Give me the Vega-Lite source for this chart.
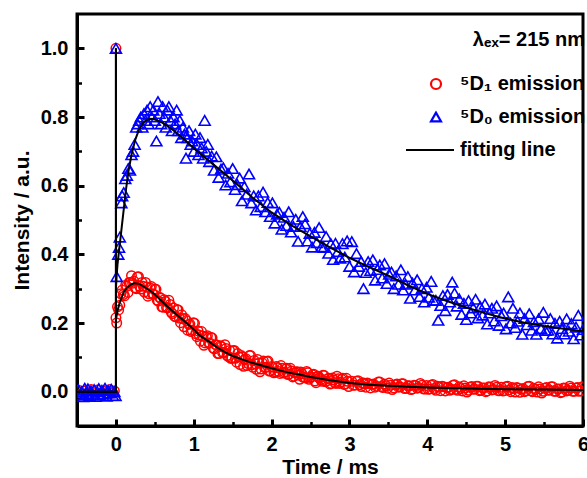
{
  "$schema": "https://vega.github.io/schema/vega-lite/v6.json",
  "width": 506,
  "height": 412,
  "autosize": {"type": "none"},
  "padding": {"left": 77, "top": 14, "right": 4, "bottom": 52},
  "background": "white",
  "config": {
    "font": "Liberation Sans",
    "view": {"stroke": "black", "strokeWidth": 3},
    "axis": {
      "labelFont": "Liberation Sans", "labelFontSize": 20, "labelFontWeight": "bold", "labelColor": "black",
      "titleFont": "Liberation Sans", "titleFontSize": 21, "titleFontWeight": "bold", "titleColor": "black",
      "domainColor": "black", "domainWidth": 3, "tickColor": "black", "grid": false
    }
  },
  "datasets": {
    "d1": [
      {"t":-0.48,"y":0.004},{"t":-0.44,"y":-0.006},{"t":-0.40,"y":0.002},{"t":-0.36,"y":-0.008},{"t":-0.32,"y":0.006},{"t":-0.28,"y":-0.003},{"t":-0.24,"y":0.005},{"t":-0.20,"y":-0.007},{"t":-0.16,"y":0.001},{"t":-0.12,"y":-0.005},{"t":-0.08,"y":0.006},{"t":-0.04,"y":-0.004},{"t":-0.02,"y":0.002},
      {"t":0.0,"y":1.0},{"t":0.0,"y":0.215},{"t":0.01,"y":0.20},
      {"t":0.02,"y":0.247},{"t":0.05,"y":0.252},{"t":0.08,"y":0.296},{"t":0.11,"y":0.279},{"t":0.14,"y":0.307},{"t":0.17,"y":0.318},{"t":0.20,"y":0.338},{"t":0.23,"y":0.322},{"t":0.26,"y":0.300},{"t":0.29,"y":0.335},{"t":0.32,"y":0.299},{"t":0.35,"y":0.307},{"t":0.38,"y":0.318},{"t":0.41,"y":0.278},{"t":0.44,"y":0.302},{"t":0.47,"y":0.285},{"t":0.50,"y":0.299},{"t":0.53,"y":0.266},{"t":0.56,"y":0.275},{"t":0.59,"y":0.247},{"t":0.62,"y":0.268},{"t":0.65,"y":0.245},{"t":0.68,"y":0.266},{"t":0.71,"y":0.231},{"t":0.74,"y":0.244},{"t":0.77,"y":0.218},{"t":0.80,"y":0.238},{"t":0.83,"y":0.201},{"t":0.86,"y":0.213},{"t":0.89,"y":0.213},{"t":0.92,"y":0.179},{"t":0.95,"y":0.197},{"t":0.98,"y":0.179},{"t":1.01,"y":0.199},{"t":1.04,"y":0.160},{"t":1.07,"y":0.165},{"t":1.10,"y":0.175},{"t":1.13,"y":0.135},{"t":1.16,"y":0.159},{"t":1.19,"y":0.142},{"t":1.22,"y":0.158},{"t":1.25,"y":0.127},{"t":1.28,"y":0.137},{"t":1.31,"y":0.111},{"t":1.34,"y":0.134},{"t":1.37,"y":0.114},{"t":1.40,"y":0.137},{"t":1.43,"y":0.105},{"t":1.46,"y":0.120},{"t":1.49,"y":0.097},{"t":1.52,"y":0.120},{"t":1.55,"y":0.086},{"t":1.58,"y":0.101},{"t":1.61,"y":0.105},{"t":1.64,"y":0.074},{"t":1.67,"y":0.096},{"t":1.70,"y":0.082},{"t":1.73,"y":0.105},{"t":1.76,"y":0.071},{"t":1.79,"y":0.081},{"t":1.82,"y":0.094},{"t":1.85,"y":0.058},{"t":1.88,"y":0.084},{"t":1.91,"y":0.070},{"t":1.94,"y":0.088},{"t":1.97,"y":0.060},{"t":2.00,"y":0.073},
      {"t":2.03,"y":0.055},{"t":2.06,"y":0.073},{"t":2.09,"y":0.059},{"t":2.12,"y":0.076},{"t":2.15,"y":0.054},{"t":2.18,"y":0.066},{"t":2.21,"y":0.050},{"t":2.24,"y":0.068},{"t":2.27,"y":0.043},{"t":2.30,"y":0.055},{"t":2.33,"y":0.058},{"t":2.36,"y":0.036},{"t":2.39,"y":0.052},{"t":2.42,"y":0.043},{"t":2.45,"y":0.059},{"t":2.48,"y":0.036},{"t":2.51,"y":0.043},{"t":2.54,"y":0.051},{"t":2.57,"y":0.026},{"t":2.60,"y":0.045},{"t":2.63,"y":0.035},{"t":2.66,"y":0.048},{"t":2.69,"y":0.029},{"t":2.72,"y":0.038},{"t":2.75,"y":0.022},{"t":2.78,"y":0.040},{"t":2.81,"y":0.027},{"t":2.84,"y":0.045},{"t":2.87,"y":0.024},{"t":2.90,"y":0.036},{"t":2.93,"y":0.021},{"t":2.96,"y":0.039},{"t":2.99,"y":0.015},
      {"t":3.03,"y":0.030},{"t":3.07,"y":0.019},{"t":3.11,"y":0.032},{"t":3.15,"y":0.015},{"t":3.19,"y":0.023},{"t":3.23,"y":0.025},{"t":3.27,"y":0.011},{"t":3.31,"y":0.022},{"t":3.35,"y":0.016},{"t":3.39,"y":0.028},{"t":3.43,"y":0.012},{"t":3.47,"y":0.017},{"t":3.51,"y":0.025},{"t":3.55,"y":0.006},{"t":3.59,"y":0.020},{"t":3.63,"y":0.013},{"t":3.67,"y":0.023},{"t":3.71,"y":0.009},{"t":3.75,"y":0.017},{"t":3.79,"y":0.006},{"t":3.83,"y":0.019},{"t":3.87,"y":0.010},{"t":3.91,"y":0.024},{"t":3.95,"y":0.008},{"t":3.99,"y":0.018},{"t":4.03,"y":0.008},{"t":4.07,"y":0.021},{"t":4.11,"y":0.004},{"t":4.15,"y":0.013},{"t":4.19,"y":0.016},{"t":4.23,"y":0.002},{"t":4.27,"y":0.013},{"t":4.31,"y":0.007},{"t":4.35,"y":0.020},{"t":4.39,"y":0.004},{"t":4.43,"y":0.009},{"t":4.47,"y":0.017},{"t":4.51,"y":-0.001},{"t":4.55,"y":0.013},{"t":4.59,"y":0.007},{"t":4.63,"y":0.016},{"t":4.67,"y":0.003},{"t":4.71,"y":0.011},{"t":4.75,"y":0.000},{"t":4.79,"y":0.014},{"t":4.83,"y":0.005},{"t":4.87,"y":0.018},{"t":4.91,"y":0.003},{"t":4.95,"y":0.013},{"t":4.99,"y":0.003},{"t":5.03,"y":0.016},{"t":5.07,"y":0.000},{"t":5.11,"y":0.009},{"t":5.15,"y":0.012},{"t":5.19,"y":-0.002},{"t":5.23,"y":0.009},{"t":5.27,"y":0.003},{"t":5.31,"y":0.016},{"t":5.35,"y":0.000},{"t":5.39,"y":0.006},{"t":5.43,"y":0.014},{"t":5.47,"y":-0.004},{"t":5.51,"y":0.010},{"t":5.55,"y":0.004},{"t":5.59,"y":0.014},{"t":5.63,"y":0.001},{"t":5.67,"y":0.008},{"t":5.71,"y":-0.003},{"t":5.75,"y":0.011},{"t":5.79,"y":0.002},{"t":5.83,"y":0.016},{"t":5.87,"y":0.001},{"t":5.91,"y":0.011},{"t":5.95,"y":0.001},{"t":5.99,"y":0.014},
      {"t":0.035,"y":0.238},{"t":0.065,"y":0.285},{"t":0.095,"y":0.283},{"t":0.125,"y":0.310},{"t":0.155,"y":0.289},{"t":0.185,"y":0.318},{"t":0.215,"y":0.316},{"t":0.245,"y":0.303},{"t":0.275,"y":0.334},{"t":0.305,"y":0.307},{"t":0.335,"y":0.318},{"t":0.365,"y":0.290},{"t":0.395,"y":0.305},{"t":0.425,"y":0.285},{"t":0.455,"y":0.306},{"t":0.485,"y":0.284},{"t":0.515,"y":0.298},{"t":0.545,"y":0.264},{"t":0.575,"y":0.272},{"t":0.605,"y":0.246},{"t":0.635,"y":0.263},{"t":0.665,"y":0.244},{"t":0.695,"y":0.254},{"t":0.725,"y":0.227},{"t":0.755,"y":0.219},{"t":0.785,"y":0.239},{"t":0.815,"y":0.214},{"t":0.845,"y":0.224},{"t":0.875,"y":0.189},{"t":0.905,"y":0.207},{"t":0.935,"y":0.196},{"t":0.965,"y":0.175},{"t":0.995,"y":0.201},{"t":1.025,"y":0.169},{"t":1.055,"y":0.177},{"t":1.085,"y":0.147},{"t":1.115,"y":0.162},{"t":1.145,"y":0.142},{"t":1.175,"y":0.163},{"t":1.205,"y":0.142},{"t":1.235,"y":0.157},{"t":1.265,"y":0.125},{"t":1.295,"y":0.136},{"t":1.325,"y":0.111},{"t":1.355,"y":0.131},{"t":1.385,"y":0.114},{"t":1.415,"y":0.126},{"t":1.445,"y":0.102},{"t":1.475,"y":0.097},{"t":1.505,"y":0.119},{"t":1.535,"y":0.097},{"t":1.565,"y":0.111},{"t":1.595,"y":0.079},{"t":1.625,"y":0.101},{"t":1.655,"y":0.093},{"t":1.685,"y":0.076},{"t":1.715,"y":0.105},{"t":1.745,"y":0.078},{"t":1.775,"y":0.091},{"t":1.805,"y":0.065},{"t":1.835,"y":0.083},{"t":1.865,"y":0.066},{"t":1.895,"y":0.089},{"t":1.925,"y":0.071},{"t":1.955,"y":0.089},{"t":1.985,"y":0.060},
      {"t":2.015,"y":0.071},{"t":2.045,"y":0.058},{"t":2.075,"y":0.070},{"t":2.105,"y":0.053},{"t":2.135,"y":0.068},{"t":2.165,"y":0.057},{"t":2.195,"y":0.068},{"t":2.225,"y":0.051},{"t":2.255,"y":0.060},{"t":2.285,"y":0.045},{"t":2.315,"y":0.057},{"t":2.345,"y":0.048},{"t":2.375,"y":0.057},{"t":2.405,"y":0.042},{"t":2.435,"y":0.040},{"t":2.465,"y":0.055},{"t":2.495,"y":0.041},{"t":2.525,"y":0.049},{"t":2.555,"y":0.031},{"t":2.585,"y":0.044},{"t":2.615,"y":0.040},{"t":2.645,"y":0.030},{"t":2.675,"y":0.047},{"t":2.705,"y":0.031},{"t":2.735,"y":0.039},{"t":2.765,"y":0.024},{"t":2.795,"y":0.034},{"t":2.825,"y":0.024},{"t":2.855,"y":0.038},{"t":2.885,"y":0.028},{"t":2.915,"y":0.039},{"t":2.945,"y":0.022},{"t":2.975,"y":0.030},
      {"t":3.05,"y":0.019},{"t":3.09,"y":0.030},{"t":3.13,"y":0.020},{"t":3.17,"y":0.026},{"t":3.21,"y":0.013},{"t":3.25,"y":0.023},{"t":3.29,"y":0.021},{"t":3.33,"y":0.013},{"t":3.37,"y":0.028},{"t":3.41,"y":0.015},{"t":3.45,"y":0.022},{"t":3.49,"y":0.010},{"t":3.53,"y":0.019},{"t":3.57,"y":0.011},{"t":3.61,"y":0.022},{"t":3.65,"y":0.014},{"t":3.69,"y":0.023},{"t":3.73,"y":0.010},{"t":3.77,"y":0.017},{"t":3.81,"y":0.008},{"t":3.85,"y":0.018},{"t":3.89,"y":0.012},{"t":3.93,"y":0.019},{"t":3.97,"y":0.008},{"t":4.01,"y":0.007},{"t":4.05,"y":0.019},{"t":4.09,"y":0.009},{"t":4.13,"y":0.016},{"t":4.17,"y":0.003},{"t":4.21,"y":0.014},{"t":4.25,"y":0.012},{"t":4.29,"y":0.004},{"t":4.33,"y":0.019},{"t":4.37,"y":0.007},{"t":4.41,"y":0.014},{"t":4.45,"y":0.002},{"t":4.49,"y":0.011},{"t":4.53,"y":0.004},{"t":4.57,"y":0.015},{"t":4.61,"y":0.008},{"t":4.65,"y":0.016},{"t":4.69,"y":0.004},{"t":4.73,"y":0.011},{"t":4.77,"y":0.002},{"t":4.81,"y":0.013},{"t":4.85,"y":0.006},{"t":4.89,"y":0.013},{"t":4.93,"y":0.003},{"t":4.97,"y":0.002},{"t":5.01,"y":0.014},{"t":5.05,"y":0.005},{"t":5.09,"y":0.012},{"t":5.13,"y":-0.001},{"t":5.17,"y":0.010},{"t":5.21,"y":0.007},{"t":5.25,"y":0.000},{"t":5.29,"y":0.015},{"t":5.33,"y":0.003},{"t":5.37,"y":0.010},{"t":5.41,"y":-0.001},{"t":5.45,"y":0.008},{"t":5.49,"y":0.001},{"t":5.53,"y":0.012},{"t":5.57,"y":0.005},{"t":5.61,"y":0.014},{"t":5.65,"y":0.001},{"t":5.69,"y":0.008},{"t":5.73,"y":-0.001},{"t":5.77,"y":0.010},{"t":5.81,"y":0.004},{"t":5.85,"y":0.011},{"t":5.89,"y":0.001},{"t":5.93,"y":0.012},{"t":5.97,"y":0.003}
    ],
    "d0": [
      {"t":-0.48,"y":0.005},{"t":-0.46,"y":-0.010},{"t":-0.44,"y":0.000},{"t":-0.42,"y":-0.015},{"t":-0.40,"y":0.010},{"t":-0.38,"y":-0.005},{"t":-0.36,"y":0.008},{"t":-0.34,"y":-0.012},{"t":-0.32,"y":0.002},{"t":-0.30,"y":-0.008},{"t":-0.28,"y":0.006},{"t":-0.26,"y":-0.014},{"t":-0.24,"y":0.000},{"t":-0.22,"y":0.009},{"t":-0.20,"y":-0.010},{"t":-0.18,"y":0.004},{"t":-0.16,"y":-0.006},{"t":-0.14,"y":0.010},{"t":-0.12,"y":-0.013},{"t":-0.10,"y":0.003},{"t":-0.08,"y":-0.004},{"t":-0.06,"y":0.007},{"t":-0.04,"y":-0.011},{"t":-0.02,"y":0.000},{"t":-0.005,"y":-0.012},
      {"t":0.0,"y":1.0},
      {"t":0.01,"y":0.335},{"t":0.03,"y":0.40},{"t":0.04,"y":0.42},{"t":0.05,"y":0.45},{"t":0.07,"y":0.55},{"t":0.08,"y":0.57},{"t":0.10,"y":0.58},{"t":0.12,"y":0.62},{"t":0.14,"y":0.63},{"t":0.16,"y":0.65},{"t":0.18,"y":0.645},{"t":0.20,"y":0.69},{"t":0.22,"y":0.70},{"t":0.24,"y":0.72},{"t":0.26,"y":0.77},{"t":0.28,"y":0.78},{"t":0.30,"y":0.79},{"t":0.32,"y":0.80},{"t":0.34,"y":0.77},{"t":0.36,"y":0.81},{"t":0.38,"y":0.79},{"t":0.40,"y":0.82},{"t":0.42,"y":0.78},{"t":0.44,"y":0.83},{"t":0.46,"y":0.80},{"t":0.48,"y":0.82},{"t":0.50,"y":0.79},{"t":0.52,"y":0.73},{"t":0.54,"y":0.845},{"t":0.56,"y":0.81},{"t":0.58,"y":0.78},{"t":0.60,"y":0.83},{"t":0.62,"y":0.80},{"t":0.64,"y":0.77},{"t":0.66,"y":0.82},{"t":0.68,"y":0.83},{"t":0.70,"y":0.79},{"t":0.72,"y":0.76},{"t":0.74,"y":0.80},{"t":0.76,"y":0.78},{"t":0.78,"y":0.82},{"t":0.80,"y":0.76},{"t":0.82,"y":0.79},{"t":0.84,"y":0.74},{"t":0.86,"y":0.77},{"t":0.88,"y":0.75},{"t":0.90,"y":0.68},{"t":0.92,"y":0.74},{"t":0.94,"y":0.76},{"t":0.96,"y":0.72},{"t":0.98,"y":0.73},{"t":1.00,"y":0.70},{"t":1.02,"y":0.75},{"t":1.04,"y":0.72},{"t":1.06,"y":0.69},{"t":1.08,"y":0.74},{"t":1.10,"y":0.71},{"t":1.12,"y":0.68},{"t":1.14,"y":0.79},{"t":1.16,"y":0.70},{"t":1.18,"y":0.72},{"t":1.20,"y":0.67},
      {"t":1.23,"y":0.686},{"t":1.26,"y":0.645},{"t":1.29,"y":0.684},{"t":1.32,"y":0.624},{"t":1.35,"y":0.648},{"t":1.38,"y":0.652},{"t":1.41,"y":0.602},{"t":1.44,"y":0.636},{"t":1.47,"y":0.611},{"t":1.50,"y":0.650},{"t":1.53,"y":0.589},{"t":1.56,"y":0.603},{"t":1.59,"y":0.622},{"t":1.62,"y":0.556},{"t":1.65,"y":0.597},{"t":1.68,"y":0.575},{"t":1.71,"y":0.634},{"t":1.74,"y":0.550},{"t":1.77,"y":0.570},{"t":1.80,"y":0.529},{"t":1.83,"y":0.570},{"t":1.86,"y":0.539},{"t":1.89,"y":0.581},{"t":1.92,"y":0.524},
      {"t":1.95,"y":0.551},{"t":1.98,"y":0.510},{"t":2.01,"y":0.550},{"t":2.04,"y":0.491},{"t":2.07,"y":0.517},{"t":2.10,"y":0.522},{"t":2.13,"y":0.473},{"t":2.16,"y":0.508},{"t":2.19,"y":0.484},{"t":2.22,"y":0.524},{"t":2.25,"y":0.465},{"t":2.28,"y":0.481},{"t":2.31,"y":0.502},{"t":2.34,"y":0.438},{"t":2.37,"y":0.481},{"t":2.40,"y":0.510},{"t":2.43,"y":0.489},{"t":2.46,"y":0.439},{"t":2.49,"y":0.461},{"t":2.52,"y":0.421},{"t":2.55,"y":0.464},{"t":2.58,"y":0.434},{"t":2.61,"y":0.478},{"t":2.64,"y":0.422},
      {"t":2.67,"y":0.420},{"t":2.70,"y":0.452},{"t":2.73,"y":0.403},{"t":2.76,"y":0.431},{"t":2.79,"y":0.385},{"t":2.82,"y":0.432},{"t":2.85,"y":0.408},{"t":2.88,"y":0.389},{"t":2.91,"y":0.431},{"t":2.94,"y":0.392},{"t":2.97,"y":0.439},{"t":3.00,"y":0.365},{"t":3.03,"y":0.437},{"t":3.06,"y":0.349},{"t":3.09,"y":0.402},{"t":3.12,"y":0.365},{"t":3.15,"y":0.379},{"t":3.18,"y":0.300},{"t":3.21,"y":0.347},{"t":3.24,"y":0.379},{"t":3.27,"y":0.353},{"t":3.30,"y":0.384},{"t":3.33,"y":0.325},{"t":3.36,"y":0.356},
      {"t":3.39,"y":0.369},{"t":3.42,"y":0.331},{"t":3.45,"y":0.373},{"t":3.48,"y":0.315},{"t":3.51,"y":0.342},{"t":3.54,"y":0.348},{"t":3.57,"y":0.300},{"t":3.60,"y":0.337},{"t":3.63,"y":0.313},{"t":3.66,"y":0.355},{"t":3.69,"y":0.296},{"t":3.72,"y":0.313},{"t":3.75,"y":0.335},{"t":3.78,"y":0.272},{"t":3.81,"y":0.316},{"t":3.84,"y":0.296},{"t":3.87,"y":0.326},{"t":3.90,"y":0.277},{"t":3.93,"y":0.300},{"t":3.96,"y":0.261},{"t":3.99,"y":0.304},{"t":4.02,"y":0.275},{"t":4.05,"y":0.321},{"t":4.08,"y":0.266},
      {"t":4.11,"y":0.266},{"t":4.14,"y":0.208},{"t":4.17,"y":0.251},{"t":4.20,"y":0.280},{"t":4.23,"y":0.236},{"t":4.26,"y":0.283},{"t":4.29,"y":0.261},{"t":4.32,"y":0.319},{"t":4.35,"y":0.287},{"t":4.38,"y":0.249},{"t":4.41,"y":0.270},{"t":4.44,"y":0.225},{"t":4.47,"y":0.257},{"t":4.50,"y":0.210},{"t":4.53,"y":0.265},{"t":4.56,"y":0.229},{"t":4.59,"y":0.244},{"t":4.62,"y":0.269},{"t":4.65,"y":0.215},{"t":4.68,"y":0.248},{"t":4.71,"y":0.223},{"t":4.74,"y":0.255},{"t":4.77,"y":0.197},{"t":4.80,"y":0.229},
      {"t":4.83,"y":0.243},{"t":4.86,"y":0.206},{"t":4.89,"y":0.250},{"t":4.92,"y":0.193},{"t":4.95,"y":0.221},{"t":4.98,"y":0.229},{"t":5.01,"y":0.183},{"t":5.04,"y":0.276},{"t":5.07,"y":0.200},{"t":5.10,"y":0.243},{"t":5.13,"y":0.187},{"t":5.16,"y":0.205},{"t":5.19,"y":0.229},{"t":5.22,"y":0.167},{"t":5.25,"y":0.213},{"t":5.28,"y":0.195},{"t":5.31,"y":0.227},{"t":5.34,"y":0.179},{"t":5.37,"y":0.204},{"t":5.40,"y":0.167},{"t":5.43,"y":0.212},{"t":5.46,"y":0.184},{"t":5.49,"y":0.231},{"t":5.52,"y":0.178},
      {"t":5.55,"y":0.179},{"t":5.58,"y":0.213},{"t":5.61,"y":0.168},{"t":5.64,"y":0.199},{"t":5.67,"y":0.156},{"t":5.70,"y":0.205},{"t":5.73,"y":0.184},{"t":5.76,"y":0.168},{"t":5.79,"y":0.212},{"t":5.82,"y":0.176},{"t":5.85,"y":0.198},{"t":5.88,"y":0.154},{"t":5.91,"y":0.188},{"t":5.94,"y":0.222},{"t":5.97,"y":0.165},{"t":6.00,"y":0.181}
    ],
    "fit": [
      {"c":"D0","i":0,"t":-0.5,"y":0},{"c":"D0","i":1,"t":0,"y":0},{"c":"D0","i":2,"t":0,"y":1.0},{"c":"D0","i":3,"t":0,"y":0.30},{"c":"D0","i":4,"t":0.01,"y":0.34},{"c":"D0","i":5,"t":0.02,"y":0.37},{"c":"D0","i":6,"t":0.04,"y":0.41},{"c":"D0","i":7,"t":0.06,"y":0.45},{"c":"D0","i":8,"t":0.08,"y":0.49},{"c":"D0","i":9,"t":0.10,"y":0.53},{"c":"D0","i":10,"t":0.13,"y":0.59},{"c":"D0","i":11,"t":0.16,"y":0.64},{"c":"D0","i":12,"t":0.20,"y":0.69},{"c":"D0","i":13,"t":0.25,"y":0.735},{"c":"D0","i":14,"t":0.30,"y":0.765},{"c":"D0","i":15,"t":0.35,"y":0.783},{"c":"D0","i":16,"t":0.40,"y":0.792},{"c":"D0","i":17,"t":0.45,"y":0.795},{"c":"D0","i":18,"t":0.50,"y":0.793},{"c":"D0","i":19,"t":0.60,"y":0.783},{"c":"D0","i":20,"t":0.70,"y":0.768},{"c":"D0","i":21,"t":0.80,"y":0.750},{"c":"D0","i":22,"t":0.90,"y":0.730},{"c":"D0","i":23,"t":1.00,"y":0.709},{"c":"D0","i":24,"t":1.25,"y":0.662},{"c":"D0","i":25,"t":1.50,"y":0.615},{"c":"D0","i":26,"t":1.75,"y":0.566},{"c":"D0","i":27,"t":2.00,"y":0.522},{"c":"D0","i":28,"t":2.25,"y":0.485},{"c":"D0","i":29,"t":2.50,"y":0.452},{"c":"D0","i":30,"t":2.75,"y":0.420},{"c":"D0","i":31,"t":3.00,"y":0.390},{"c":"D0","i":32,"t":3.25,"y":0.363},{"c":"D0","i":33,"t":3.50,"y":0.338},{"c":"D0","i":34,"t":3.75,"y":0.310},{"c":"D0","i":35,"t":4.00,"y":0.285},{"c":"D0","i":36,"t":4.25,"y":0.264},{"c":"D0","i":37,"t":4.50,"y":0.245},{"c":"D0","i":38,"t":4.75,"y":0.228},{"c":"D0","i":39,"t":5.00,"y":0.213},{"c":"D0","i":40,"t":5.25,"y":0.201},{"c":"D0","i":41,"t":5.50,"y":0.191},{"c":"D0","i":42,"t":5.75,"y":0.183},{"c":"D0","i":43,"t":6.00,"y":0.176},
      {"c":"D1","i":0,"t":-0.5,"y":0},{"c":"D1","i":1,"t":0,"y":0},{"c":"D1","i":2,"t":0,"y":1.0},{"c":"D1","i":3,"t":0,"y":0.21},{"c":"D1","i":4,"t":0.02,"y":0.235},{"c":"D1","i":5,"t":0.05,"y":0.26},{"c":"D1","i":6,"t":0.10,"y":0.29},{"c":"D1","i":7,"t":0.14,"y":0.303},{"c":"D1","i":8,"t":0.20,"y":0.313},{"c":"D1","i":9,"t":0.24,"y":0.316},{"c":"D1","i":10,"t":0.30,"y":0.314},{"c":"D1","i":11,"t":0.35,"y":0.307},{"c":"D1","i":12,"t":0.44,"y":0.294},{"c":"D1","i":13,"t":0.50,"y":0.283},{"c":"D1","i":14,"t":0.65,"y":0.250},{"c":"D1","i":15,"t":0.75,"y":0.230},{"c":"D1","i":16,"t":0.87,"y":0.207},{"c":"D1","i":17,"t":1.00,"y":0.181},{"c":"D1","i":18,"t":1.08,"y":0.163},{"c":"D1","i":19,"t":1.20,"y":0.145},{"c":"D1","i":20,"t":1.29,"y":0.130},{"c":"D1","i":21,"t":1.40,"y":0.115},{"c":"D1","i":22,"t":1.51,"y":0.103},{"c":"D1","i":23,"t":1.62,"y":0.094},{"c":"D1","i":24,"t":1.72,"y":0.086},{"c":"D1","i":25,"t":1.83,"y":0.079},{"c":"D1","i":26,"t":1.94,"y":0.072},{"c":"D1","i":27,"t":2.10,"y":0.062},{"c":"D1","i":28,"t":2.25,"y":0.054},{"c":"D1","i":29,"t":2.37,"y":0.049},{"c":"D1","i":30,"t":2.50,"y":0.043},{"c":"D1","i":31,"t":2.75,"y":0.033},{"c":"D1","i":32,"t":3.00,"y":0.025},{"c":"D1","i":33,"t":3.25,"y":0.020},{"c":"D1","i":34,"t":3.50,"y":0.017},{"c":"D1","i":35,"t":3.75,"y":0.014},{"c":"D1","i":36,"t":4.00,"y":0.012},{"c":"D1","i":37,"t":4.50,"y":0.009},{"c":"D1","i":38,"t":5.00,"y":0.007},{"c":"D1","i":39,"t":5.50,"y":0.006},{"c":"D1","i":40,"t":6.00,"y":0.005}
    ]
  },
  "resolve": {"axis": {"x": "independent", "y": "independent"}},
  "layer": [
    {
      "data": {"name": "d1"},
      "mark": {"type": "point", "filled": false, "strokeWidth": 1.5, "size": 90, "opacity": 1, "clip": true},
      "encoding": {
        "x": {"field": "t", "type": "quantitative",
              "scale": {"domain": [-0.5, 6], "nice": false, "zero": false},
              "axis": {"orient": "bottom", "values": [0,1,2,3,4,5,6], "format": "d", "tickSize": -7, "tickWidth": 3, "labelPadding": 15, "labelFlush": false, "labelOverlap": false, "title": "Time / ms", "titlePadding": 2}},
        "y": {"field": "y", "type": "quantitative",
              "scale": {"domain": [-0.1, 1.1], "nice": false, "zero": false},
              "axis": {"orient": "left", "values": [0,0.2,0.4,0.6,0.8,1.0], "format": ".1f", "tickSize": -7, "tickWidth": 3, "labelPadding": 16, "labelFlush": false, "labelOverlap": false, "title": "Intensity / a.u.", "titlePadding": 8}},
        "color": {"datum": "⁵D₁ emission", "type": "nominal",
                  "scale": {"domain": ["⁵D₁ emission", "⁵D₀ emission", "fitting line"], "range": ["#ff0000", "#0000ff", "#000000"]},
                  "legend": {"orient": "none", "legendX": 349, "legendY": 16, "title": "λₑₓ= 215 nm", "titleAnchor": "end", "titleFont": "Liberation Sans", "titleFontSize": 20, "titleFontWeight": "bold", "titleColor": "black", "titlePadding": 24, "labelFont": "Liberation Sans", "labelFontSize": 20, "labelFontWeight": "bold", "labelColor": "black", "labelOffset": 14, "symbolSize": 100, "symbolStrokeWidth": 2.2, "rowPadding": 13, "padding": 0}},
        "shape": {"datum": "⁵D₁ emission", "type": "nominal",
                  "scale": {"domain": ["⁵D₁ emission", "⁵D₀ emission", "fitting line"], "range": ["circle", "triangle-up", "M-6,0H3.6"]},
                  "legend": {"orient": "none", "legendX": 349, "legendY": 16, "title": "λₑₓ= 215 nm", "titleAnchor": "end", "titleFont": "Liberation Sans", "titleFontSize": 20, "titleFontWeight": "bold", "titleColor": "black", "titlePadding": 24, "labelFont": "Liberation Sans", "labelFontSize": 20, "labelFontWeight": "bold", "labelColor": "black", "labelOffset": 14, "symbolSize": 100, "symbolStrokeWidth": 2.2, "rowPadding": 13, "padding": 0}}
      }
    },
    {
      "data": {"name": "d0"},
      "mark": {"type": "point", "filled": false, "strokeWidth": 1.6, "size": 120, "opacity": 1, "clip": true},
      "encoding": {
        "x": {"field": "t", "type": "quantitative", "axis": null},
        "y": {"field": "y", "type": "quantitative", "axis": null},
        "color": {"datum": "⁵D₀ emission", "type": "nominal"},
        "shape": {"datum": "⁵D₀ emission", "type": "nominal"}
      }
    },
    {
      "data": {"name": "fit"},
      "mark": {"type": "line", "color": "black", "strokeWidth": 2, "clip": true},
      "encoding": {
        "x": {"field": "t", "type": "quantitative",
              "axis": {"orient": "bottom", "values": [-0.5,0.5,1.5,2.5,3.5,4.5,5.5], "tickSize": -4.5, "tickWidth": 2.5, "labels": false, "domain": false, "title": null}},
        "y": {"field": "y", "type": "quantitative",
              "axis": {"orient": "left", "values": [0.1,0.3,0.5,0.7,0.9], "tickSize": -4.5, "tickWidth": 2.5, "labels": false, "domain": false, "title": null}},
        "detail": {"field": "c", "type": "nominal"},
        "order": {"field": "i", "type": "quantitative"}
      }
    }
  ]
}
